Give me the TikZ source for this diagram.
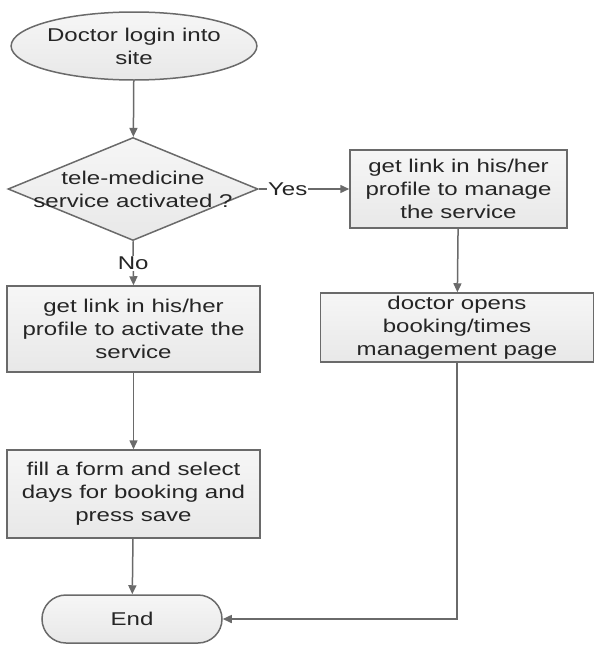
\documentclass[tikz,border=0pt]{standalone}
\usepackage{fontspec}
\setmainfont{Liberation Sans}[FakeStretch=1.3]
\usetikzlibrary{shapes.geometric,shapes.misc,arrows.meta}
\definecolor{edge}{HTML}{6A6A6A}
\definecolor{ink}{HTML}{252525}
\definecolor{boxtop}{HTML}{F6F6F6}
\definecolor{boxbot}{HTML}{E8E8E8}
\begin{document}
\begin{tikzpicture}[x=1pt,y=-1pt,
  every node/.style={font=\fontsize{18.5}{23}\selectfont, text=ink, align=center},
  shapebase/.style={draw=edge, line width=1.5pt, top color=boxtop, bottom color=boxbot, inner sep=0pt},
  stepbox/.style={shapebase, rectangle},
  startshape/.style={shapebase, ellipse},
  endshape/.style={shapebase, rounded rectangle},
  decshape/.style={shapebase, diamond},
  flow/.style={draw=edge, line width=1.5pt, -{Triangle[length=9pt,width=8pt]}},
  tag/.style={fill=white, inner sep=1pt}]
\useasboundingbox (0,0) rectangle (594,648);

\node[startshape, minimum width=218pt, minimum height=68pt] (start) at (134,46)
  {Doctor login into\\site};
\node[decshape, minimum width=250pt, minimum height=103pt] (dec) at (133,189) {};
\node (dectext) at (133,189) {tele-medicine\\service activated ?};
\node[stepbox, minimum width=217pt, minimum height=78pt] (manage) at (458.5,189)
  {get link in his/her\\profile to manage\\the service};
\node[stepbox, minimum width=273pt, minimum height=69pt] (page) at (457,327.5)
  {doctor opens\\booking/times\\management page};
\node[stepbox, minimum width=253pt, minimum height=86pt] (act) at (133.5,329)
  {get link in his/her\\profile to activate the\\service};
\node[stepbox, minimum width=253pt, minimum height=88pt] (form) at (133.5,494)
  {fill a form and select\\days for booking and\\press save};
\node[endshape, minimum width=180pt, minimum height=48pt] (end) at (132,619) {End};
\coordinate (corner) at (page.south |- end.east);

\draw[flow] (start) -- (dec);
\draw[flow] (dec.east) -- node[tag, pos=0.32] {Yes} (manage.west);
\draw[flow] (dec.south) -- node[tag, pos=0.5] {No} (act.north);
\draw[flow] (act) -- (form);
\draw[flow] (form) -- (end);
\draw[flow] (manage) -- (page);
\draw[flow] (page.south) -- (corner) -- (end.east);
\end{tikzpicture}
\end{document}
